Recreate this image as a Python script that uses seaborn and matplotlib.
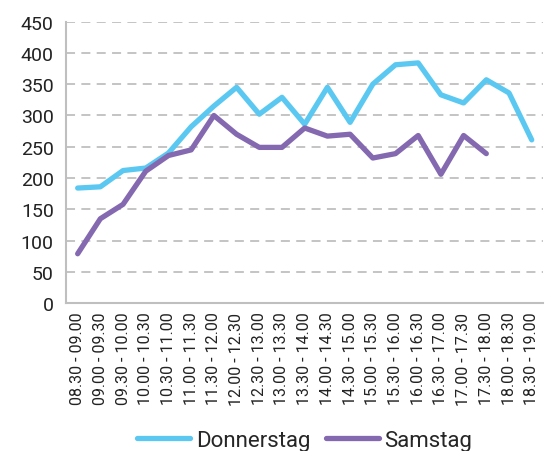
import numpy as np
import pandas as pd
import seaborn as sns
import matplotlib.pyplot as plt

# time slots
slots = ['08.30 - 09.00', '09.00 - 09.30', '09.30 - 10.00', '10.00 - 10.30',
         '10.30 - 11.00', '11.00 - 11.30', '11.30 - 12.00', '12.00 - 12.30',
         '12.30 - 13.00', '13.00 - 13.30', '13.30 - 14.00', '14.00 - 14.30',
         '14.30 - 15.00', '15.00 - 15.30', '15.30 - 16.00', '16.00 - 16.30',
         '16.30 - 17.00', '17.00 - 17.30', '17.30 - 18.00', '18.00 - 18.30',
         '18.30 - 19.00']

donnerstag = [184, 186, 212, 216, 240, 282, 315, 345, 302, 329, 286,
              345, 289, 350, 381, 384, 333, 320, 357, 336, 261]
samstag = [79, 135, 158, 211, 236, 245, 300, 270, 249, 249, 280,
           267, 270, 232, 239, 268, 206, 268, 239, np.nan, np.nan]

df = pd.DataFrame({'Zeit': slots, 'Donnerstag': donnerstag, 'Samstag': samstag})
long = df.melt(id_vars='Zeit', var_name='Tag', value_name='Anzahl')

sns.set_style('white')
plt.rcParams['font.family'] = ['Roboto', 'DejaVu Sans']

fig = plt.figure(figsize=(5.48, 4.52), dpi=100)
ax = fig.add_axes([0.121, 0.327, 0.870, 0.623])

sns.lineplot(data=long, x='Zeit', y='Anzahl', hue='Tag',
             palette={'Donnerstag': '#5BC8F2', 'Samstag': '#8469B0'},
             linewidth=3.8, ax=ax, sort=False)

ax.set_xlim(-0.5, len(slots) - 0.5)
ax.set_ylim(0, 450)
ax.set_yticks(range(0, 451, 50))
ax.yaxis.grid(True, linestyle=(0, (5, 3.5)), color='#BFBFBF', linewidth=1.3)
ax.set_axisbelow(True)

ax.set_xticks(range(len(slots)))
ax.set_xticklabels(slots, rotation=90)
ax.set_xticks(np.arange(-0.5, len(slots), 1), minor=True)
ax.tick_params(axis='x', which='major', length=0, labelsize=11.5, pad=6, labelcolor='#222222')
ax.tick_params(axis='x', which='minor', length=5, color='#BFBFBF', width=1.2)
ax.tick_params(axis='y', length=6, color='#BFBFBF', width=1.2, labelsize=14,
               labelcolor='#222222', pad=3)

for s in ['top', 'right']:
    ax.spines[s].set_visible(False)
for s in ['left', 'bottom']:
    ax.spines[s].set_color('#BFBFBF')
    ax.spines[s].set_linewidth(1.5)

ax.set_xlabel('')
ax.set_ylabel('')

ax.legend(loc='lower center', bbox_to_anchor=(0.5, -0.595), ncol=2, frameon=False,
          fontsize=16, handlelength=2.4, columnspacing=0.7, handletextpad=0.25,
          title=None)

fig.savefig('out.png', dpi=100)
